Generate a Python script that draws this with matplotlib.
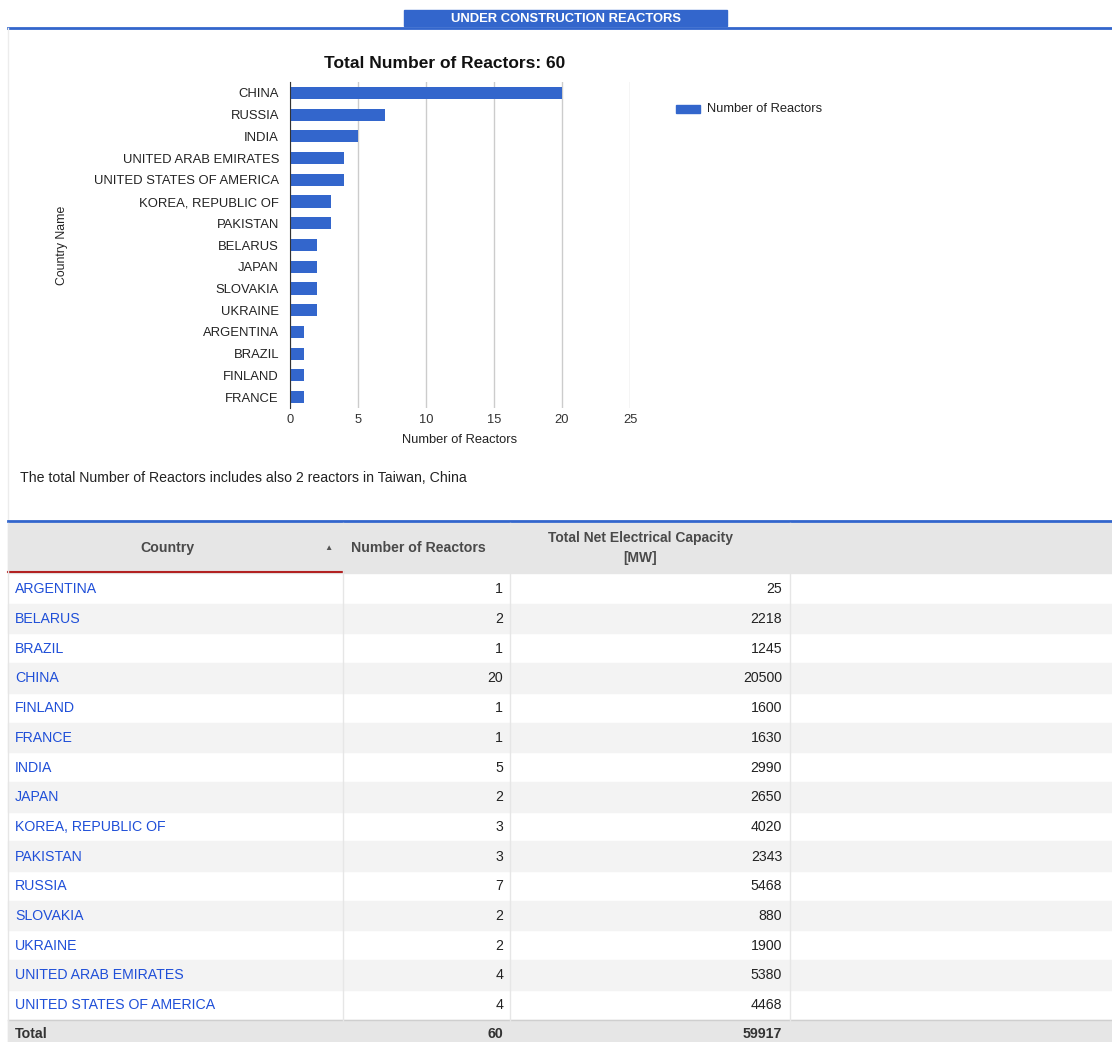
import matplotlib
matplotlib.use("Agg")
import matplotlib.pyplot as plt
from matplotlib.patches import Rectangle

plt.rcParams['font.family'] = ['Liberation Sans', 'DejaVu Sans']

# table data (alphabetical, as in the grid)
countries = ["ARGENTINA", "BELARUS", "BRAZIL", "CHINA", "FINLAND", "FRANCE",
             "INDIA", "JAPAN", "KOREA, REPUBLIC OF", "PAKISTAN", "RUSSIA",
             "SLOVAKIA", "UKRAINE", "UNITED ARAB EMIRATES",
             "UNITED STATES OF AMERICA"]
reactors = [1, 2, 1, 20, 1, 1, 5, 2, 3, 3, 7, 2, 2, 4, 4]
capacity = [25, 2218, 1245, 20500, 1600, 1630, 2990, 2650, 4020, 2343,
            5468, 880, 1900, 5380, 4468]
total_reactors = 60
total_capacity = 59917

BLUE = "#3366cc"
LINK = "#1f4fd8"

W, H = 1112, 1042
fig = plt.figure(figsize=(W / 100, H / 100), dpi=100)

# background axes in pixel coords for the page furniture and the grid
bg = fig.add_axes([0, 0, 1, 1])
bg.set_xlim(0, W)
bg.set_ylim(H, 0)
bg.axis('off')

# header bar
bg.add_patch(Rectangle((404, 10), 323, 16, color=BLUE))
bg.text(566, 18.5, "UNDER CONSTRUCTION REACTORS", color="white",
        fontsize=9.4, fontweight="bold", ha="center", va="center")
bg.plot([8, W], [28, 28], color=BLUE, lw=2)
bg.plot([8, 8], [28, 521], color="#ececec", lw=1)

# chart title and footnote
bg.text(445, 63, "Total Number of Reactors: %d" % total_reactors,
        fontsize=12.5, fontweight="bold", ha="center", va="center", color="#111")
bg.text(20, 478, "The total Number of Reactors includes also 2 reactors in Taiwan, China",
        fontsize=10.2, ha="left", va="center", color="#222")

# legend
bg.add_patch(Rectangle((676, 105), 24, 8, color=BLUE))
bg.text(707, 109, "Number of Reactors", fontsize=9.3, ha="left", va="center",
        color="#222")

# bar chart: sorted by count desc, then name
order = sorted(range(len(countries)), key=lambda i: (-reactors[i], countries[i]))
names = [countries[i] for i in order]
vals = [reactors[i] for i in order]

ax = fig.add_axes([290 / W, 1 - 408 / H, 340 / W, 326 / H])
ax.barh(range(len(names)), vals, height=0.56, color=BLUE, zorder=3)
ax.set_xlim(0, 25)
ax.set_ylim(len(names) - 0.5, -0.5)
ax.set_yticks(range(len(names)))
ax.set_yticklabels(names, fontsize=9.4, color="#222")
ax.set_xticks([0, 5, 10, 15, 20, 25])
ax.tick_params(axis='x', labelsize=9.3, labelcolor="#333", length=0, pad=4)
ax.tick_params(axis='y', length=0, pad=8)
ax.grid(axis='x', color="#cccccc", lw=1, zorder=0)
for s in ["top", "right", "bottom"]:
    ax.spines[s].set_visible(False)
ax.spines["left"].set_color("#333333")
ax.spines["left"].set_zorder(4)
ax.set_xlabel("Number of Reactors", fontsize=9.3, color="#222", labelpad=6)
ax.set_ylabel("Country Name", fontsize=8.8, color="#222")
ax.yaxis.set_label_coords(-222 / 340, 0.5)

# table
bg.plot([8, W], [521, 521], color=BLUE, lw=2)
col_x = [8, 343, 510, 790, W]
head_top, head_bot = 523, 573
bg.add_patch(Rectangle((8, head_top), W - 8, head_bot - head_top, color="#e6e6e6"))
bg.plot([8, 343], [572, 572], color="#b22222", lw=1.5)
hdr_col = "#4a4a4a"
bg.text(167, 548, "Country", fontsize=10.2, fontweight="bold", ha="center",
        va="center", color=hdr_col)
bg.text(328, 548, "\u25b2", fontsize=6, ha="center", va="center", color="#555")
bg.text(418, 548, "Number of Reactors", fontsize=10.2, fontweight="bold",
        ha="center", va="center", color=hdr_col)
bg.text(640, 548, "Total Net Electrical Capacity\n[MW]", fontsize=10,
        fontweight="bold", ha="center", va="center", color=hdr_col,
        linespacing=1.5)

row_top = 574
row_h = 29.7
for k in range(len(countries)):
    y0 = row_top + k * row_h
    if k % 2 == 1:
        bg.add_patch(Rectangle((8, y0), W - 8, row_h, color="#f3f3f3"))
    yc = y0 + row_h / 2 + 0.5
    bg.text(15, yc, countries[k], fontsize=10.2, color=LINK, ha="left", va="center")
    bg.text(503, yc, str(reactors[k]), fontsize=10.2, color="#222", ha="right", va="center")
    bg.text(782, yc, str(capacity[k]), fontsize=10.2, color="#222", ha="right", va="center")

tot_top = row_top + len(countries) * row_h
bg.add_patch(Rectangle((8, tot_top), W - 8, H - tot_top, color="#e6e6e6"))
bg.plot([8, W], [tot_top, tot_top], color="#cfcfcf", lw=1)
yc = tot_top + 14
bg.text(15, yc, "Total", fontsize=10.2, fontweight="bold", color="#333", ha="left", va="center")
bg.text(503, yc, str(total_reactors), fontsize=10.2, fontweight="bold", color="#333",
        ha="right", va="center")
bg.text(782, yc, str(total_capacity), fontsize=10.2, fontweight="bold", color="#333",
        ha="right", va="center")

# column separators
for cx in col_x[1:-1]:
    bg.plot([cx, cx], [head_top, H], color="#e6e6e6", lw=1)
bg.plot([8, 8], [head_top, H], color="#e6e6e6", lw=1)

fig.savefig("out.png", dpi=100)
